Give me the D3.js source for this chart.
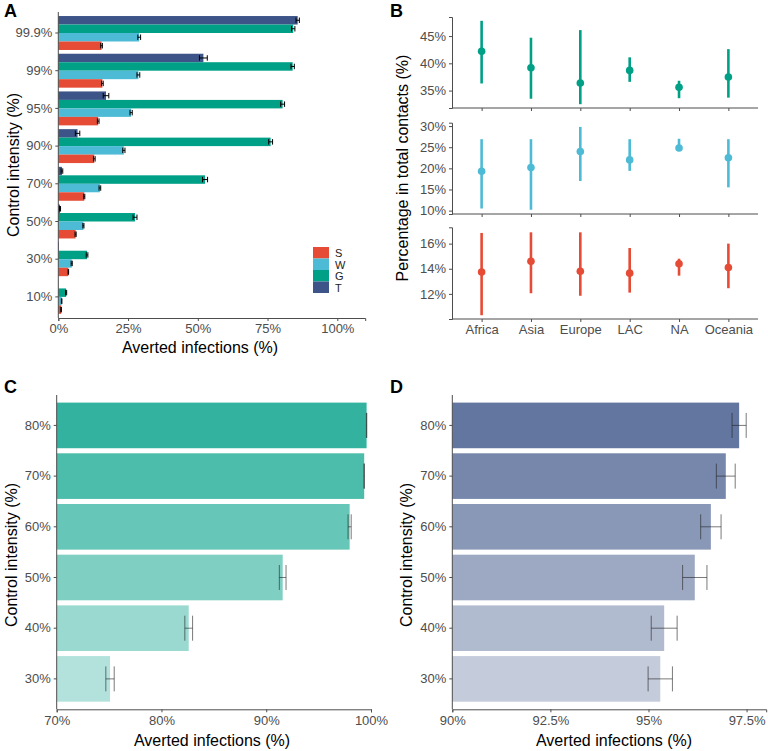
<!DOCTYPE html>
<html><head><meta charset="utf-8">
<script src="https://cdn.jsdelivr.net/npm/d3@7"></script>
<style>
body{margin:0;background:#fff;}
text{font-family:"Liberation Sans",Arial,sans-serif;}
</style></head>
<body><svg id="c" width="768" height="751"></svg>
<script>
// ---------- Panel A data ----------
const aIntensity = ["99.9%","99%","95%","90%","70%","50%","30%","10%"];
const aSeries = ["T","G","W","S"];
const aLegend = ["S","W","G","T"];
const aT = [85.8, 52.0, 17.1, 6.9, 1.3, 0.6, 0.2, 0.05];
const aG = [84.2, 84.0, 80.4, 76.1, 52.6, 27.5, 10.3, 2.8];
const aW = [29.0, 28.7, 26.1, 23.5, 14.9, 9.0, 4.8, 1.2];
const aS = [15.5, 15.8, 14.3, 12.9, 9.3, 6.2, 3.6, 1.0];
const aTerr = [0.6, 1.4, 1.0, 0.8, 0.3, 0.2, 0.1, 0.05];
const aGerr = [0.6, 0.6, 0.7, 0.7, 0.9, 0.7, 0.3, 0.2];
const aWerr = [0.5, 0.5, 0.4, 0.4, 0.3, 0.2, 0.2, 0.1];
const aSerr = [0.3, 0.3, 0.3, 0.3, 0.2, 0.2, 0.1, 0.1];
const aXTicks = [0, 25, 50, 75, 100];

// ---------- Panel B data ----------
const regions = ["Africa","Asia","Europe","LAC","NA","Oceania"];
const bG = [42.2, 39.2, 36.4, 38.7, 35.6, 37.5];
const bGlo = [36.3, 33.5, 32.5, 36.6, 33.6, 33.7];
const bGhi = [47.8, 44.7, 46.1, 41.1, 36.8, 42.6];
const bW = [19.3, 20.2, 24.0, 22.0, 24.8, 22.5];
const bWlo = [10.5, 10.2, 17.0, 19.4, 24.5, 15.5];
const bWhi = [26.9, 26.9, 29.8, 26.9, 27.0, 26.9];
const bS = [13.74, 14.6, 13.8, 13.65, 14.4, 14.1];
const bSlo = [10.3, 12.05, 11.85, 12.1, 13.45, 12.45];
const bShi = [16.85, 16.9, 16.9, 15.65, 14.8, 16.0];
const bGTicks = [35, 40, 45];
const bWTicks = [10, 15, 20, 25, 30];
const bSTicks = [12, 14, 16];

// ---------- Panel C data ----------
const cdIntensity = ["80%","70%","60%","50%","40%","30%"];
const cdAlpha = [0.8, 0.7, 0.6, 0.5, 0.4, 0.3];
const cVal = [99.58, 99.35, 97.96, 91.57, 82.6, 75.09];
const cErr = [0.02, 0.02, 0.15, 0.32, 0.37, 0.4];
const cTicks = [70, 80, 90, 100];

// ---------- Panel D data ----------
const dVal = [97.31, 96.97, 96.59, 96.18, 95.40, 95.30];
const dErr = [0.18, 0.24, 0.26, 0.31, 0.33, 0.31];
const dTicks = [90, 92.5, 95, 97.5];

const colors = {S:"#E64B35", W:"#4DBBD5", G:"#00A087", T:"#3C5488"};
const tickCol = "#4D4D4D", axisCol = "#4D4D4D";
const svg = d3.select("#c");

function styleAxis(g){
  g.select(".domain").attr("stroke", axisCol).attr("stroke-width", 1);
  g.selectAll(".tick line").attr("stroke", axisCol);
  g.selectAll(".tick text").attr("fill", tickCol).attr("font-size", 13);
}
function letter(t, x, y){
  svg.append("text").attr("x", x).attr("y", y).attr("font-size", 18)
    .attr("font-weight", "bold").text(t);
}
function ytitle(t, x, y){
  svg.append("text").attr("transform", `translate(${x},${y}) rotate(-90)`)
    .attr("text-anchor", "middle").attr("font-size", 16).attr("fill", "#000").text(t);
}
function xtitle(t, x, y){
  svg.append("text").attr("x", x).attr("y", y)
    .attr("text-anchor", "middle").attr("font-size", 16).attr("fill", "#000").text(t);
}
const fmtPct = d => d + "%";

// ================= Panel A =================
{
  const x = d3.scaleLinear().domain([0, 110]).range([58.3, 365.2]);
  const y = d3.scaleBand().domain(aIntensity).range([14.15, 315.75]).paddingInner(0.1).paddingOuter(0.05);
  const ys = d3.scaleBand().domain(aSeries).range([0, y.bandwidth()]);
  const vals = {T:aT, G:aG, W:aW, S:aS};
  const errs = {T:aTerr, G:aGerr, W:aWerr, S:aSerr};
  const g = svg.append("g");
  const rows = [];
  aIntensity.forEach((c, i) => aSeries.forEach(s => rows.push({c, s, v: vals[s][i], e: errs[s][i]})));
  g.selectAll("rect.bar").data(rows).enter().append("rect")
    .attr("x", x(0)).attr("y", d => y(d.c) + ys(d.s))
    .attr("width", d => x(d.v) - x(0)).attr("height", ys.bandwidth())
    .attr("fill", d => colors[d.s]);
  const eb = g.selectAll("g.eb").data(rows.filter(d => d.v > 0.3)).enter().append("g")
    .attr("stroke", "#000").attr("stroke-width", 1);
  eb.append("line").attr("x1", d => x(d.v - d.e)).attr("x2", d => x(d.v + d.e))
    .attr("y1", d => y(d.c) + ys(d.s) + ys.bandwidth()/2).attr("y2", d => y(d.c) + ys(d.s) + ys.bandwidth()/2);
  [-1, 1].forEach(k => eb.append("line")
    .attr("x1", d => x(d.v + k*d.e)).attr("x2", d => x(d.v + k*d.e))
    .attr("y1", d => y(d.c) + ys(d.s) + 1.5).attr("y2", d => y(d.c) + ys(d.s) + ys.bandwidth() - 1.5));
  const gx = svg.append("g").attr("transform", "translate(0,318)")
    .call(d3.axisBottom(x).tickValues(aXTicks).tickFormat(fmtPct).tickSizeOuter(0).tickSize(3));
  styleAxis(gx);
  const gy = svg.append("g").attr("transform", "translate(58.3,0)")
    .call(d3.axisLeft(y).tickSizeOuter(0).tickSize(3));
  gy.select(".domain").attr("d", "M0,12V318");
  styleAxis(gy);
  // legend
  const lg = svg.append("g").attr("transform", "translate(313,247)");
  aLegend.forEach((s, i) => {
    lg.append("rect").attr("x", 0).attr("y", i*11.5).attr("width", 16).attr("height", 11.5).attr("fill", colors[s]);
    lg.append("text").attr("x", 22).attr("y", i*11.5 + 10).attr("font-size", 11).attr("fill", "#222").text(s);
  });
  letter("A", 4, 17);
  ytitle("Control intensity (%)", 19, 165);
  xtitle("Averted infections (%)", 200, 353);
}

// ================= Panel B =================
{
  const x = d3.scalePoint().domain(regions).range([452, 758]).padding(0.6);
  const facets = [
    {key:"G", v:bG, lo:bGlo, hi:bGhi, dom:[31.8, 48.5], r:[108, 17], ticks:bGTicks},
    {key:"W", v:bW, lo:bWlo, hi:bWhi, dom:[9.2, 30.8], r:[214, 122.7], ticks:bWTicks},
    {key:"S", v:bS, lo:bSlo, hi:bShi, dom:[10, 17.3], r:[319, 227.3], ticks:bSTicks},
  ];
  facets.forEach((f, fi) => {
    const y = d3.scaleLinear().domain(f.dom).range(f.r);
    const g = svg.append("g");
    const data = regions.map((r, i) => ({r, v:f.v[i], lo:f.lo[i], hi:f.hi[i]}));
    g.selectAll("line.ci").data(data).enter().append("line")
      .attr("x1", d => x(d.r)).attr("x2", d => x(d.r))
      .attr("y1", d => y(d.lo)).attr("y2", d => y(d.hi))
      .attr("stroke", colors[f.key]).attr("stroke-width", 2.6);
    g.selectAll("circle").data(data).enter().append("circle")
      .attr("cx", d => x(d.r)).attr("cy", d => y(d.v)).attr("r", 3.8)
      .attr("fill", colors[f.key]);
    const gx = svg.append("g").attr("transform", `translate(0,${f.r[0]})`)
      .call(d3.axisBottom(x).tickSizeOuter(0).tickSize(3).tickFormat(fi === 2 ? null : () => ""));
    gx.select(".domain").attr("d", "M452,0H758");
    styleAxis(gx);
    const gy = svg.append("g").attr("transform", "translate(452,0)")
      .call(d3.axisLeft(y).tickValues(f.ticks).tickFormat(fmtPct).tickSizeOuter(0).tickSize(3));
    styleAxis(gy);
  });
  letter("B", 390, 17);
  ytitle("Percentage in total contacts (%)", 408, 168);
}

// ================= Panel C & D =================
function hbar(opts){
  const x = d3.scaleLinear().domain(opts.dom).range(opts.xr);
  const y = d3.scaleBand().domain(cdIntensity).range([395, 709.3]).paddingInner(0.1).paddingOuter(0.15);
  const data = cdIntensity.map((c, i) => ({c, v:opts.vals[i], e:opts.errs[i], a:cdAlpha[i]}));
  const g = svg.append("g");
  g.selectAll("rect").data(data).enter().append("rect")
    .attr("x", x(opts.dom[0])).attr("y", d => y(d.c))
    .attr("width", d => x(d.v) - x(opts.dom[0])).attr("height", y.bandwidth())
    .attr("fill", opts.color).attr("fill-opacity", d => d.a);
  const eb = g.selectAll("g.eb").data(data).enter().append("g")
    .attr("stroke", "#222").attr("stroke-opacity", 0.6).attr("stroke-width", 1);
  const cy = d => y(d.c) + y.bandwidth()/2;
  eb.append("line").attr("x1", d => x(d.v - d.e)).attr("x2", d => x(d.v + d.e)).attr("y1", cy).attr("y2", cy);
  [-1, 1].forEach(k => eb.append("line")
    .attr("x1", d => x(d.v + k*d.e)).attr("x2", d => x(d.v + k*d.e))
    .attr("y1", d => cy(d) - 12.5).attr("y2", d => cy(d) + 12.5));
  const gx = svg.append("g").attr("transform", "translate(0,709.3)")
    .call(d3.axisBottom(x).tickValues(opts.ticks).tickFormat(fmtPct).tickSizeOuter(0).tickSize(3));
  styleAxis(gx);
  const gy = svg.append("g").attr("transform", `translate(${opts.xr[0]},0)`)
    .call(d3.axisLeft(y).tickSizeOuter(0).tickSize(3));
  gy.select(".domain").attr("d", "M0,395V709.3");
  styleAxis(gy);
}
hbar({dom:[70, 100], xr:[56.7, 371], vals:cVal, errs:cErr, ticks:cTicks, color:colors.G});
letter("C", 4, 393);
ytitle("Control intensity (%)", 17, 555);
xtitle("Averted infections (%)", 212, 746);

hbar({dom:[90, 98], xr:[452.3, 766.2], vals:dVal, errs:dErr, ticks:dTicks, color:colors.T});
letter("D", 390, 393);
ytitle("Control intensity (%)", 412, 555);
xtitle("Averted infections (%)", 614, 746);
</script></body></html>
